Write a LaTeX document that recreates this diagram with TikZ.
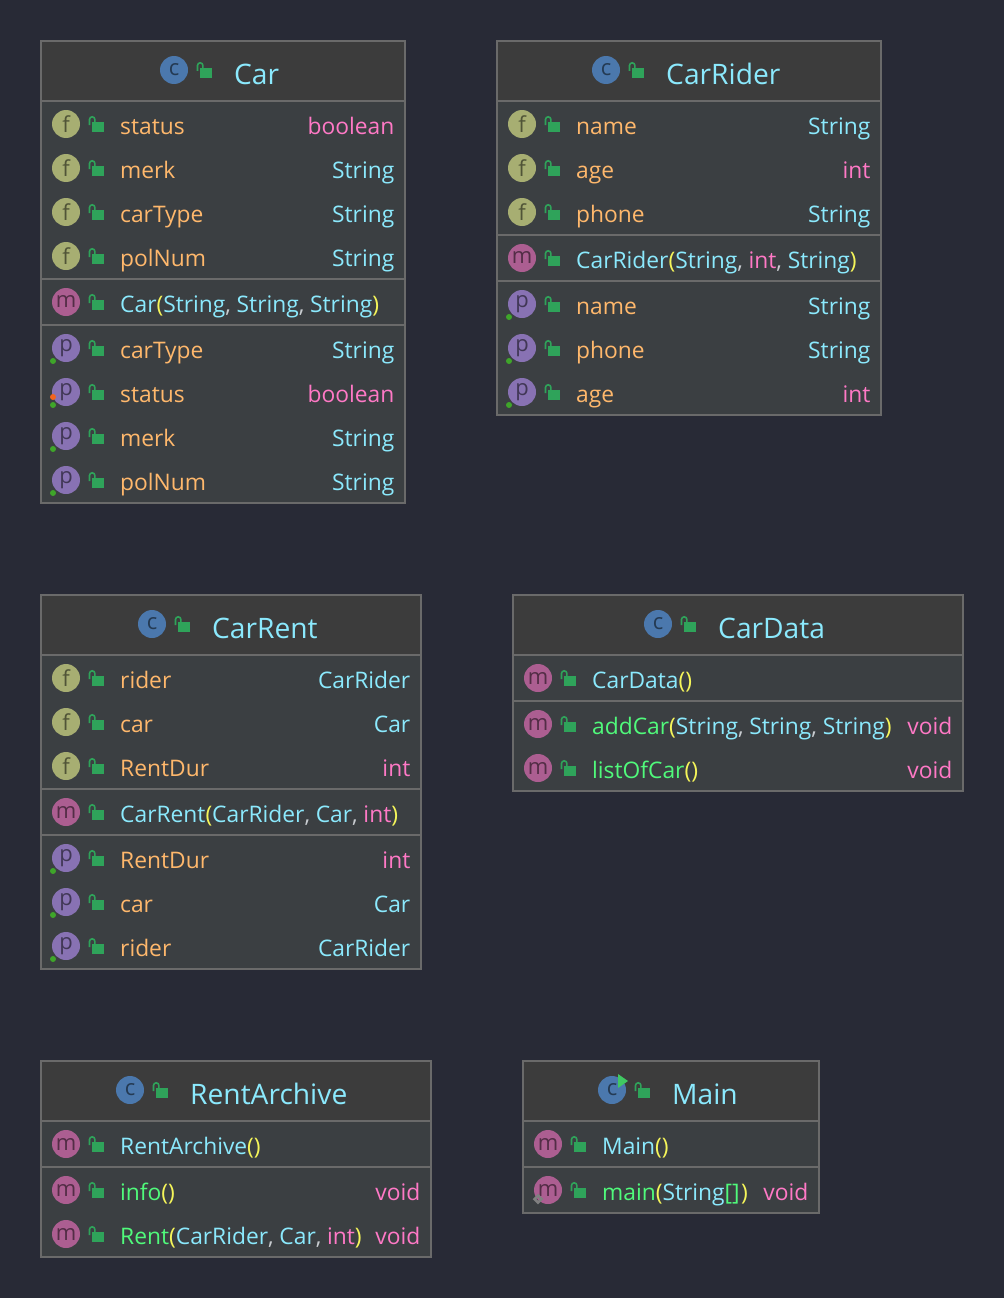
\documentclass[tikz,border=0pt]{standalone}
\usepackage{fontspec}
\setmainfont{Open Sans}
\definecolor{pagebg}{HTML}{282A36}
\definecolor{headbg}{HTML}{3C3C3C}
\definecolor{rowbg}{HTML}{3B3F42}
\definecolor{edgegray}{HTML}{6A6A6A}
\definecolor{lockgreen}{HTML}{2FA35A}
\definecolor{dotgreen}{HTML}{3FA52A}
\definecolor{dotorange}{HTML}{F2641E}
\definecolor{namecol}{HTML}{FFB86C}
\definecolor{typecol}{HTML}{8BE9FD}
\definecolor{pinkcol}{HTML}{FF79C6}
\definecolor{methcol}{HTML}{50FA7B}
\definecolor{parcol}{HTML}{F5F55A}
\definecolor{commacol}{HTML}{C8CCD0}
\definecolor{icC}{HTML}{4B78AD}
\definecolor{icF}{HTML}{A7AE72}
\definecolor{icM}{HTML}{AC5E91}
\definecolor{icP}{HTML}{8872B3}
\newcommand{\ty}[1]{\textcolor{typecol}{#1}}
\newcommand{\pk}[1]{\textcolor{pinkcol}{#1}}
\newcommand{\nm}[1]{\textcolor{namecol}{#1}}
\newcommand{\mt}[1]{\textcolor{methcol}{#1}}
\newcommand{\po}{\textcolor{parcol}{(}}
\newcommand{\pc}{\textcolor{parcol}{)}}
\newcommand{\cm}{\textcolor{commacol}{,}\hspace{5.7pt}}
\tikzset{
	x=1pt, y=-1pt,
	rowtext/.style={inner sep=0pt, font=\fontsize{22.8}{28}\selectfont},
	titletext/.style={inner sep=0pt, anchor=base west, text=typecol, font=\fontsize{28.2}{34}\selectfont},
	iconc/.style={circle, minimum size=28pt, inner sep=0pt, fill=#1, font=\fontsize{22}{24}\selectfont, text=#1!48!black},
	boxedge/.style={draw=edgegray, line width=1.8pt},
	shackle/.style={draw=lockgreen, line width=1.6pt}
}
% class box: name, left, top, right, bottom, header bottom
\newcommand{\classbox}[6]{
	\fill[rowbg] (#2, #3) rectangle (#4, #5);
	\fill[headbg] (#2, #3) rectangle (#4, #6);
	\draw[boxedge] (#2, #3) rectangle (#4, #5);
	\draw[boxedge] (#2, #6) -- (#4, #6);
}
\newcommand{\lockat}[2]{
	\fill[lockgreen] (#1+26, #2-2) rectangle (#1+38, #2+8);
	\draw[shackle] (#1+23.5, #2+1) -- (#1+23.5, #2-4.5) arc (180:360:2.7) -- (#1+28.9, #2-2);
}
% header: id, icon x, icon y, title
\newcommand{\classhead}[4]{
	\node[iconc=icC] (#1Icon) at (#2, #3) {c};
	\lockat{#2}{#3}
	\node[titletext] (#1Title) at (#2+60, #3+14.5) {#4};
}
% row: id, left, right, y, letter, icon colour, name, type
\newcommand{\memberrow}[8]{
	\node[iconc=#6] (#1Icon) at (#2+25, #4-2) {#5};
	\lockat{#2+25}{#4-2}
	\node[rowtext, anchor=base west] (#1Name) at (#2+79, #4+8) {#7};
	\node[rowtext, anchor=base east] (#1Type) at (#3-10.5, #4+8) {#8};
}
\newcommand{\propdot}[2]{
	\fill[dotgreen] (#1-13, #2+13) circle (3);
}
\begin{document}
\begin{tikzpicture}
	\useasboundingbox[fill=pagebg] (0, 0) rectangle (1004, 1298);

	%%%%% Car %%%%%
	\classbox{car}{41}{41}{405}{503}{101}
	\draw[boxedge] (41, 279) -- (405, 279);
	\draw[boxedge] (41, 325) -- (405, 325);
	\classhead{car}{174}{70}{Car}
	\memberrow{carF1}{41}{405}{126}{f}{icF}{\nm{status}}{\pk{boolean}}
	\memberrow{carF2}{41}{405}{170}{f}{icF}{\nm{merk}}{\ty{String}}
	\memberrow{carF3}{41}{405}{214}{f}{icF}{\nm{carType}}{\ty{String}}
	\memberrow{carF4}{41}{405}{258}{f}{icF}{\nm{polNum}}{\ty{String}}
	\memberrow{carM1}{41}{405}{304}{m}{icM}{\ty{Car}\po\ty{String}\cm\ty{String}\cm\ty{String}\pc}{}
	\memberrow{carP1}{41}{405}{350}{p}{icP}{\nm{carType}}{\ty{String}}
	\memberrow{carP2}{41}{405}{394}{p}{icP}{\nm{status}}{\pk{boolean}}
	\memberrow{carP3}{41}{405}{438}{p}{icP}{\nm{merk}}{\ty{String}}
	\memberrow{carP4}{41}{405}{482}{p}{icP}{\nm{polNum}}{\ty{String}}
	\propdot{66}{348}
	\propdot{66}{392}
	\fill[dotorange] (53, 397) circle (3);
	\propdot{66}{436}
	\propdot{66}{480}

	%%%%% CarRider %%%%%
	\classbox{rider}{497}{41}{881}{415}{101}
	\draw[boxedge] (497, 235) -- (881, 235);
	\draw[boxedge] (497, 281) -- (881, 281);
	\classhead{rider}{606}{70}{CarRider}
	\memberrow{riderF1}{497}{881}{126}{f}{icF}{\nm{name}}{\ty{String}}
	\memberrow{riderF2}{497}{881}{170}{f}{icF}{\nm{age}}{\pk{int}}
	\memberrow{riderF3}{497}{881}{214}{f}{icF}{\nm{phone}}{\ty{String}}
	\memberrow{riderM1}{497}{881}{260}{m}{icM}{\ty{CarRider}\po\ty{String}\cm\pk{int}\cm\ty{String}\pc}{}
	\memberrow{riderP1}{497}{881}{306}{p}{icP}{\nm{name}}{\ty{String}}
	\memberrow{riderP2}{497}{881}{350}{p}{icP}{\nm{phone}}{\ty{String}}
	\memberrow{riderP3}{497}{881}{394}{p}{icP}{\nm{age}}{\pk{int}}
	\propdot{522}{304}
	\propdot{522}{348}
	\propdot{522}{392}

	%%%%% CarRent %%%%%
	\classbox{rent}{41}{595}{421}{969}{655}
	\draw[boxedge] (41, 789) -- (421, 789);
	\draw[boxedge] (41, 835) -- (421, 835);
	\classhead{rent}{152}{624}{CarRent}
	\memberrow{rentF1}{41}{421}{680}{f}{icF}{\nm{rider}}{\ty{CarRider}}
	\memberrow{rentF2}{41}{421}{724}{f}{icF}{\nm{car}}{\ty{Car}}
	\memberrow{rentF3}{41}{421}{768}{f}{icF}{\nm{RentDur}}{\pk{int}}
	\memberrow{rentM1}{41}{421}{814}{m}{icM}{\ty{CarRent}\po\ty{CarRider}\cm\ty{Car}\cm\pk{int}\pc}{}
	\memberrow{rentP1}{41}{421}{860}{p}{icP}{\nm{RentDur}}{\pk{int}}
	\memberrow{rentP2}{41}{421}{904}{p}{icP}{\nm{car}}{\ty{Car}}
	\memberrow{rentP3}{41}{421}{948}{p}{icP}{\nm{rider}}{\ty{CarRider}}
	\propdot{66}{858}
	\propdot{66}{902}
	\propdot{66}{946}

	%%%%% CarData %%%%%
	\classbox{data}{513}{595}{963}{791}{655}
	\draw[boxedge] (513, 701) -- (963, 701);
	\classhead{data}{658}{624}{CarData}
	\memberrow{dataM1}{513}{963}{680}{m}{icM}{\ty{CarData}\po\pc}{}
	\memberrow{dataM2}{513}{963}{726}{m}{icM}{\mt{addCar}\po\ty{String}\cm\ty{String}\cm\ty{String}\pc}{\pk{void}}
	\memberrow{dataM3}{513}{963}{770}{m}{icM}{\mt{listOfCar}\po\pc}{\pk{void}}

	%%%%% RentArchive %%%%%
	\classbox{archive}{41}{1061}{431}{1257}{1121}
	\draw[boxedge] (41, 1167) -- (431, 1167);
	\classhead{archive}{130}{1090}{RentArchive}
	\memberrow{archiveM1}{41}{431}{1146}{m}{icM}{\ty{RentArchive}\po\pc}{}
	\memberrow{archiveM2}{41}{431}{1192}{m}{icM}{\mt{info}\po\pc}{\pk{void}}
	\memberrow{archiveM3}{41}{431}{1236}{m}{icM}{\mt{Rent}\po\ty{CarRider}\cm\ty{Car}\cm\pk{int}\pc}{\pk{void}}

	%%%%% Main %%%%%
	\classbox{main}{523}{1061}{819}{1213}{1121}
	\draw[boxedge] (523, 1167) -- (819, 1167);
	\classhead{main}{612}{1090}{Main}
	\fill[methcol!80!black] (618, 1074) -- (628, 1081) -- (618, 1088) -- cycle;
	\memberrow{mainM1}{523}{819}{1146}{m}{icM}{\ty{Main}\po\pc}{}
	\memberrow{mainM2}{523}{819}{1192}{m}{icM}{\mt{main}\po\ty{String}\mt{[]}\hspace{1.5pt}\pc}{\pk{void}}
	\draw[line width=2.5pt, gray] (538, 1195.5) -- (541.5, 1199) -- (538, 1202.5) -- (534.5, 1199) -- cycle;
\end{tikzpicture}
\end{document}
